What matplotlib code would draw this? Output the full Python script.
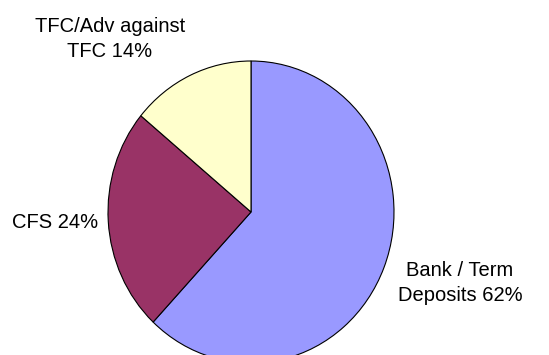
import matplotlib.pyplot as plt

categories = ["Bank / Term\nDeposits", "CFS", "TFC/Adv against\nTFC"]
shares = [62, 24, 14]
colors = ["#9999FF", "#993366", "#FFFFCC"]

W, H = 549, 355
fig = plt.figure(figsize=(W / 100, H / 100), dpi=100)
plt.rcParams['font.family'] = ['Liberation Sans', 'DejaVu Sans']

# pie slightly taller than wide, as in the reference
cx, cy, rx, ry = 251, 212, 143, 151
ax = fig.add_axes(((cx - rx) / W, (H - cy - ry) / H, 2 * rx / W, 2 * ry / H))
ax.pie(shares, colors=colors, startangle=90, counterclock=False,
       wedgeprops=dict(edgecolor='black', linewidth=0.8))
ax.set_aspect('auto')
ax.set_xlim(-1, 1)
ax.set_ylim(-1, 1)
ax.axis('off')

# label positions in pixels (x, y from top, alignment)
label_pos = [(460, 283, 'center'), (98, 222, 'right'), (110, 39, 'center')]
for cat, val, (x, y, ha) in zip(categories, shares, label_pos):
    fig.text(x / W, 1 - y / H, f"{cat} {val}%", ha=ha, va='center',
             multialignment='center', fontsize=14.5, linespacing=1.4)

fig.savefig("out.png", dpi=100)
